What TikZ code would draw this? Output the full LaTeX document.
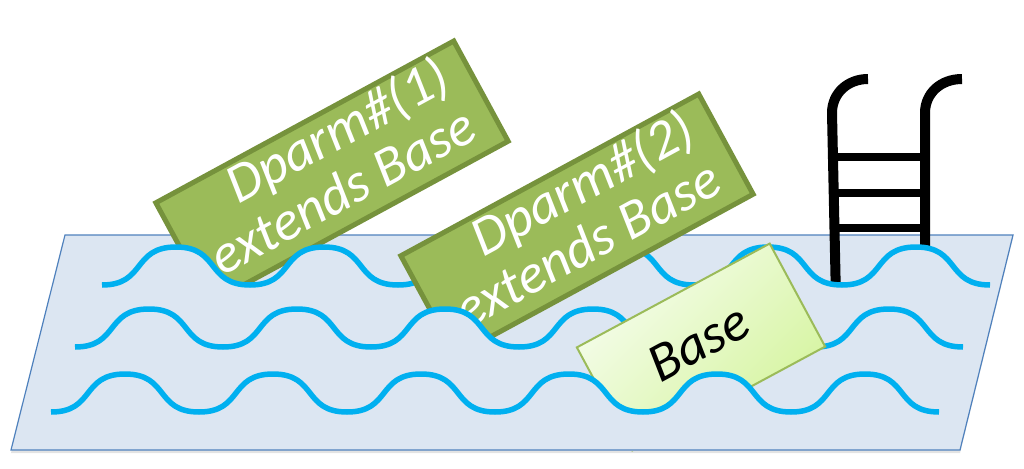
\documentclass[tikz,border=0pt]{standalone}
\usepackage{fontspec}
\setmainfont{Carlito}
\usetikzlibrary{shadows}

\definecolor{pool}{HTML}{DCE6F2}
\definecolor{pooledge}{HTML}{4F81BD}
\definecolor{water}{HTML}{00B0F0}
\definecolor{olive}{HTML}{9BBB59}
\definecolor{olivedark}{HTML}{76923C}
\definecolor{baselight}{HTML}{F6FDEE}
\definecolor{basedark}{HTML}{D4F49C}

\newcommand{\surf}{foreach \i in {1,...,6}{ .. controls +(44,0) and +(-44,0) .. ++(74,-38) .. controls +(44,0) and +(-44,0) .. ++(74,38)}}

\tikzset{
  tub/.style={draw=pooledge, fill=pool, line width=1.2pt,
    drop shadow={shadow xshift=0pt, shadow yshift=-3pt, opacity=0.22}},
  wave/.style={draw=water, line width=5.5pt},
  rail/.style={line width=10pt},
  rung/.style={line width=8pt},
  sign/.style={draw=olivedark, fill=olive, line width=5pt, inner sep=0pt,
    minimum width=339pt, minimum height=114pt, rotate=28.5, text=white,
    align=right, font=\fontsize{55.5}{54}\selectfont\itshape},
  plank/.style={draw=olive, line width=2pt, inner sep=0pt,
    top color=baselight, bottom color=basedark, shading angle=45,
    minimum width=219pt, minimum height=117pt, rotate=28.3,
    font=\fontsize{55}{62}\selectfont\itshape}
}

\begin{document}
\begin{tikzpicture}[x=1pt,y=-1pt]
  \useasboundingbox (0,0) rectangle (1024,468);
  \draw[tub] (65,235) -- (1013,235) -- (960,450) -- (11,450) -- cycle;
  \begin{scope}
    \clip (0,0) -- (0,285) -- (102,285) \surf -- (1024,285) -- (1024,0) -- cycle;
    \draw[rail] (836,300) -- (832,113) .. controls (832,93) and (848,79) .. (868,79);
    \draw[rail] (925,300) -- (925,113) .. controls (925,93) and (941,79) .. (962,79);
    \foreach \y in {157,193,228}
      \draw[rung] (832,\y) -- (925,\y);
    \node[sign] (dparm1) at (332,172) {\strut Dparm\#(1)\\\strut extends Base};
  \end{scope}
  \draw[wave] (102,285) \surf;
  \begin{scope}
    \clip (0,0) -- (0,347) -- (75,347) \surf -- (1024,347) -- (1024,0) -- cycle;
    \node[sign] (dparm2) at (577,225) {\strut Dparm\#(2)\\\strut extends Base};
  \end{scope}
  \draw[wave] (75,347) \surf;
  \begin{scope}
    \clip (0,0) -- (0,412) -- (51,412) \surf -- (1024,412) -- (1024,0) -- cycle
      (0,451) rectangle (1024,468);
    \node[plank] (base) at (701,347) {\strut Base};
  \end{scope}
  \draw[wave] (51,412) \surf;
\end{tikzpicture}
\end{document}
